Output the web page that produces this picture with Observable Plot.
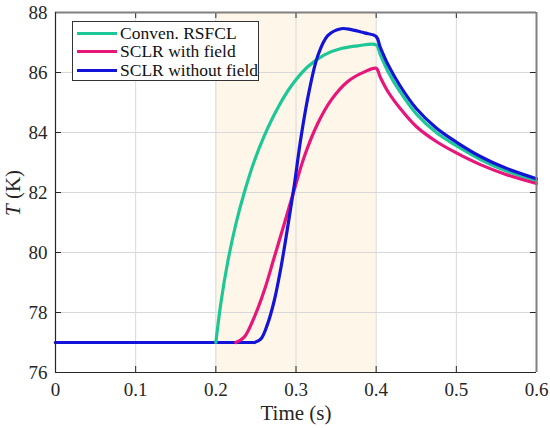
<!DOCTYPE html>
<html><head><meta charset="utf-8">
<script src="https://cdn.jsdelivr.net/npm/d3@7"></script>
<script src="https://cdn.jsdelivr.net/npm/@observablehq/plot@0.6"></script>
<style>
body{margin:0;background:#fff;}
#wrap{position:relative;width:550px;height:428px;font-family:"Liberation Serif","Times New Roman",serif;}
#legend{position:absolute;left:72px;top:21px;width:185px;height:58px;border:1px solid #333;background:#fff;}
.row{position:absolute;left:0;height:19px;display:flex;align-items:center;font-size:17.5px;color:#111;white-space:nowrap;}
.sw{width:40px;height:3px;margin-left:4px;margin-right:3px;}
</style></head>
<body><div id="wrap"></div>
<script>
const seriesNames = ["Conven. RSFCL", "SCLR with field", "SCLR without field"];
const seriesColors = ["#1ec896", "#e6167a", "#1414d8"];

const convTime = [0, 0.2, 0.2063, 0.2146, 0.225, 0.2354, 0.2479, 0.2604, 0.2771, 0.2938, 0.3146, 0.3354, 0.3563, 0.3771, 0.4, 0.405, 0.415, 0.43, 0.45, 0.475, 0.5, 0.53, 0.56, 0.6];
const convTemp = [77, 77, 78.32, 79.65, 80.95, 81.99, 83.04, 83.89, 84.81, 85.54, 86.19, 86.59, 86.8, 86.89, 86.92, 86.6, 86.02, 85.35, 84.62, 84.0, 83.56, 83.1, 82.74, 82.38];

const withTime = [0, 0.225, 0.2354, 0.2479, 0.2604, 0.2729, 0.2854, 0.2979, 0.3104, 0.3271, 0.3438, 0.3646, 0.3854, 0.4, 0.405, 0.415, 0.43, 0.45, 0.475, 0.5, 0.53, 0.56, 0.6];
const withTemp = [77, 77, 77.18, 77.84, 78.73, 79.84, 80.96, 82.1, 83.2, 84.3, 85.08, 85.7, 86.02, 86.14, 85.85, 85.35, 84.8, 84.2, 83.7, 83.32, 82.93, 82.62, 82.3];

const withoutTime = [0, 0.248, 0.2563, 0.2646, 0.2729, 0.2813, 0.2896, 0.2979, 0.3063, 0.3167, 0.3271, 0.3396, 0.3563, 0.3688, 0.3854, 0.4, 0.405, 0.415, 0.43, 0.45, 0.475, 0.5, 0.53, 0.56, 0.6];
const withoutTemp = [77, 77, 77.12, 77.62, 78.4, 79.51, 80.84, 82.25, 83.85, 85.42, 86.55, 87.23, 87.46, 87.43, 87.32, 87.2, 86.85, 86.25, 85.55, 84.8, 84.15, 83.68, 83.2, 82.83, 82.46];

const xTicks = [0, 0.1, 0.2, 0.3, 0.4, 0.5, 0.6];
const yTicks = [76, 78, 80, 82, 84, 86, 88];
const shadeRange = [{x1: 0.2, x2: 0.4}];

const flatRows = [], riseRows = [];
[[convTime, convTemp], [withTime, withTemp], [withoutTime, withoutTemp]].forEach(([ts, Ts], i) => {
  ts.forEach((t, j) => {
    const r = {series: seriesNames[i], t, T: Ts[j]};
    if (j <= 1) flatRows.push(r);
    if (j >= 1) riseRows.push(r);
  });
});

const font = "Liberation Serif";
const chart = Plot.plot({
  width: 550, height: 428,
  marginLeft: 55, marginRight: 14, marginTop: 12, marginBottom: 56,
  style: {fontFamily: font, fontSize: "19px", color: "#262626", background: "#fff"},
  x: {domain: [0, 0.6], ticks: xTicks},
  y: {domain: [76, 88], ticks: yTicks},
  color: {domain: seriesNames, range: seriesColors},
  marks: [
    Plot.rect(shadeRange, {x1: "x1", x2: "x2", y1: 76, y2: 88, fill: "#fdf6e9"}),
    Plot.gridX(xTicks, {stroke: "#d8d8d8", strokeOpacity: 1}),
    Plot.gridY(yTicks, {stroke: "#d8d8d8", strokeOpacity: 1}),
    Plot.line(flatRows, {x: "t", y: "T", z: "series", stroke: "series", strokeWidth: 3.2}),
    Plot.line(riseRows, {x: "t", y: "T", z: "series", stroke: "series", strokeWidth: 3.2, curve: "catmull-rom"}),
    // inward ticks
    Plot.ruleX(xTicks, {y1: 76, y2: 76.2, stroke: "#262626"}),
    Plot.ruleX(xTicks, {y1: 88, y2: 87.8, stroke: "#262626"}),
    Plot.ruleY(yTicks, {x1: 0, x2: 0.0075, stroke: "#262626"}),
    Plot.ruleY(yTicks, {x1: 0.6, x2: 0.5925, stroke: "#262626"}),
    Plot.ruleX([0.6], {stroke: "#808080", strokeWidth: 2}),
    Plot.ruleY([88], {stroke: "#808080", strokeWidth: 2}),
    Plot.ruleX([0], {stroke: "#262626", strokeWidth: 1.2}),
    Plot.ruleY([76], {stroke: "#262626", strokeWidth: 1.2}),
    Plot.axisX(xTicks, {tickSize: 0, tickPadding: 10, label: null, tickFormat: d => String(d), fill: "#262626"}),
    Plot.axisY(yTicks, {tickSize: 0, tickPadding: 8, label: null, fill: "#262626"})
  ]
});

const wrap = document.getElementById("wrap");
wrap.appendChild(chart);
const svg = d3.select(chart);
svg.append("text").attr("x", 296).attr("y", 420).attr("text-anchor", "middle")
  .attr("font-family", font).attr("font-size", 21).attr("fill", "#262626").text("Time (s)");
const yl = svg.append("text").attr("transform", "translate(20,193) rotate(-90)").attr("text-anchor", "middle")
  .attr("font-family", font).attr("font-size", 21).attr("fill", "#262626");
yl.append("tspan").attr("font-style", "italic").text("T");
yl.append("tspan").text(" (K)");

const leg = document.createElement("div");
leg.id = "legend";
seriesNames.forEach((n, i) => {
  const r = document.createElement("div");
  r.className = "row";
  r.style.top = (1.5 + i * 18.5) + "px";
  r.innerHTML = `<span class="sw" style="background:${seriesColors[i]}"></span><span>${n}</span>`;
  leg.appendChild(r);
});
wrap.appendChild(leg);
</script></body></html>
